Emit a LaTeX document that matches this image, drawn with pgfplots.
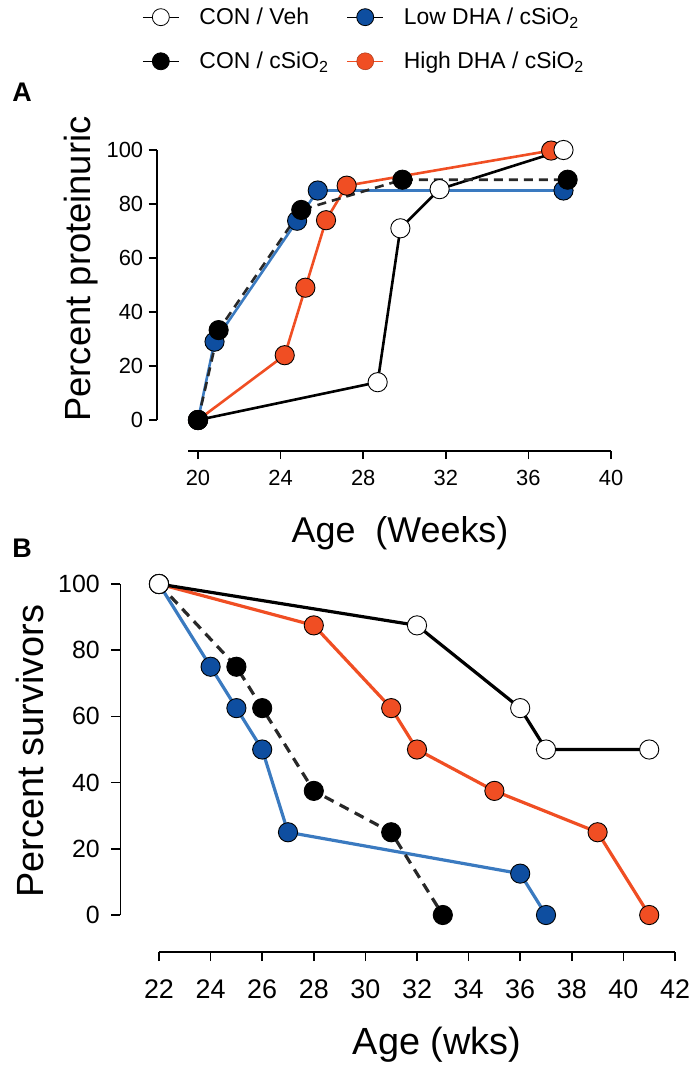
\documentclass[border=0pt]{standalone}
\usepackage{fontspec}
\setmainfont{Liberation Sans}
\usepackage{pgfplots}
\pgfplotsset{compat=1.18}
\definecolor{myred}{RGB}{240,78,35}
\definecolor{mybluefill}{RGB}{14,78,160}
\definecolor{myblueline}{RGB}{58,122,192}
\definecolor{mydash}{RGB}{40,40,40}

\pgfplotstableread{
x y
20 0
28.7 14
29.8 71
31.7 85.5
37.7 100
}\AVeh
\pgfplotstableread{
x y
20 0
21 33.3
25 77.8
29.9 89
37.9 89
}\ACon
\pgfplotstableread{
x y
20 0
20.8 29
24.8 73.8
25.8 85
37.7 85
}\ALow
\pgfplotstableread{
x y
20 0
24.2 24
25.2 49
26.2 74
27.2 86.8
37.1 99.8
}\AHigh

\pgfplotstableread{
x y
22 100
32 87.5
36 62.5
37 50
41 50
}\BVeh
\pgfplotstableread{
x y
22 100
25 75
26 62.5
28 37.5
31 25
33 0
}\BCon
\pgfplotstableread{
x y
22 100
24 75
25 62.5
26 50
27 25
36 12.5
37 0
}\BLow
\pgfplotstableread{
x y
22 100
28 87.5
31 62.5
32 50
35 37.5
39 25
41 0
}\BHigh

\pgfplotsset{
  panel/.style={
    scale only axis, clip=false,
    axis lines=left,
    axis line style={-, line width=1.6bp, black},
    tick align=outside, major tick length=8bp,
    every tick/.style={black, line width=1.6bp},
    minor tick num=0,
    /pgf/number format/assume math mode=true,
  },
  sveh/.style={black, line width=#1, mark=*, mark size=9.6bp, mark options={solid, fill=white, draw=black, line width=0.9bp}},
  scon/.style={mydash, line width=#1, dash pattern=on 9bp off 6bp, mark=*, mark size=9.6bp, mark options={solid, fill=black, draw=black, line width=0.9bp}},
  slow/.style={myblueline, line width=#1, mark=*, mark size=9.6bp, mark options={solid, fill=mybluefill, draw=black, line width=0.9bp}},
  shigh/.style={myred, line width=#1, mark=*, mark size=9.6bp, mark options={solid, fill=myred, draw=black, line width=0.9bp}},
}

\begin{document}
\begin{tikzpicture}
\useasboundingbox (0bp,0bp) rectangle (695bp,-1073bp);

% Panel A
\begin{axis}[panel,
  at={(156.7bp,-451bp)}, anchor=south west,
  width=454.3bp, height=301bp,
  xmin=18, xmax=40, ymin=-11.48, ymax=100,
  x axis line style={shorten <=31.3bp},
  y axis line style={shorten <=31bp},
  xtick={20,24,...,40}, ytick={0,20,...,100},
  xticklabel style={font=\fontsize{22}{25}\selectfont, yshift=-8bp},
  yticklabel style={font=\fontsize{22}{25}\selectfont, xshift=-2bp},
  xlabel={Age\ \ (Weeks)},
  xlabel style={at={(axis description cs:0.5356,-0.272)}, anchor=center, font=\fontsize{36}{40}\selectfont},
  ylabel={Percent proteinuric},
  ylabel style={at={(axis description cs:-0.166,0.6047)}, anchor=center, rotate=0, font=\fontsize{36.5}{40}\selectfont},
  legend columns=2,
  legend cell align=left,
  legend style={at={(axis description cs:-0.0324,1.472)}, anchor=north west, draw=none, fill=none,
    inner sep=0pt, row sep=26bp,
    nodes={inner sep=0pt},
    font=\fontsize{23}{26}\selectfont,
    /tikz/every odd column/.append style={column sep=20bp},
    /tikz/every even column/.append style={column sep=18bp}},
  legend image code/.code={\draw[mark repeat=2,mark phase=2,#1] plot coordinates {(0bp,0bp) (18bp,0bp) (36bp,0bp)};},
]
\addlegendimage{black, line width=1.3bp, mark=*, mark size=8.5bp, mark options={fill=white, draw=black, line width=0.8bp}}
\addlegendentry{CON / Veh}
\addlegendimage{black, line width=1.3bp, mark=*, mark size=8.5bp, mark options={fill=mybluefill, draw=black, line width=0.8bp}}
\addlegendentry{Low DHA / cSiO\textsubscript{2}}
\addlegendimage{black, line width=1.3bp, mark=*, mark size=8.5bp, mark options={fill=black, draw=black, line width=0.8bp}}
\addlegendentry{CON / cSiO\textsubscript{2}}
\addlegendimage{myred, line width=1.3bp, mark=*, mark size=8.5bp, mark options={fill=myred, draw=myred!70!black, line width=0.5bp}}
\addlegendentry{High DHA / cSiO\textsubscript{2}}
\addplot[slow=2.6bp, forget plot] table {\ALow};
\addplot[shigh=2.6bp, forget plot] table {\AHigh};
\addplot[sveh=2.6bp, forget plot] table {\AVeh};
\addplot[scon=2.6bp, forget plot] table {\ACon};
\end{axis}

% Panel B
\begin{axis}[panel,
  at={(120.3bp,-952bp)}, anchor=south west,
  width=554.7bp, height=368bp,
  xmin=20.5, xmax=42, ymin=-11.18, ymax=100,
  major tick length=9bp,
  x axis line style={shorten <=38.7bp},
  y axis line style={shorten <=37bp},
  xtick={22,24,...,42}, ytick={0,20,...,100},
  xticklabel style={font=\fontsize{27}{30}\selectfont, yshift=-15bp},
  yticklabel style={font=\fontsize{25}{28}\selectfont, xshift=-8bp},
  xlabel={Age (wks)},
  xlabel style={at={(axis description cs:0.571,-0.2527)}, anchor=center, font=\fontsize{38}{42}\selectfont},
  ylabel={Percent survivors},
  ylabel style={at={(axis description cs:-0.163,0.546)}, anchor=center, font=\fontsize{38}{42}\selectfont},
]
\addplot[slow=3.2bp] table {\BLow};
\addplot[shigh=3.2bp] table {\BHigh};
\addplot[scon=3.2bp, dash pattern=on 10bp off 7bp] table {\BCon};
\addplot[sveh=3.2bp] table {\BVeh};
\end{axis}

\node[font=\bfseries\fontsize{27}{30}\selectfont] at (22bp,-92bp) {A};
\node[font=\bfseries\fontsize{27}{30}\selectfont] at (22bp,-548bp) {B};
\end{tikzpicture}
\end{document}
